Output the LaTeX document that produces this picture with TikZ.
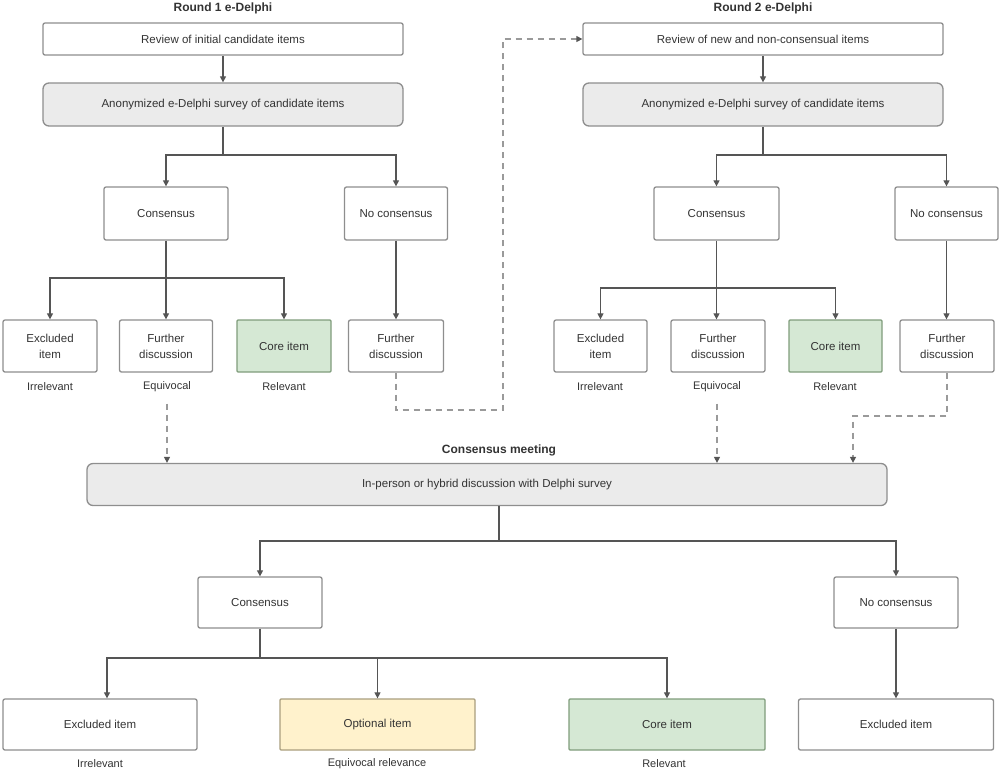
\documentclass[tikz,border=0pt]{standalone}
\usepackage{fontspec}
\setmainfont{Liberation Sans}
\usetikzlibrary{arrows.meta}
\definecolor{txt}{HTML}{333333}
\definecolor{bord}{HTML}{8E8E8E}
\definecolor{lin}{HTML}{555555}
\definecolor{dsh}{HTML}{9A9A9A}
\definecolor{grayfill}{HTML}{EBEBEB}
\definecolor{greenfill}{HTML}{D5E8D4}
\definecolor{greenbord}{HTML}{7F9C7B}
\definecolor{yellowfill}{HTML}{FFF2CC}
\definecolor{yellowbord}{HTML}{A99E7E}
\begin{document}
\begin{tikzpicture}[x=1pt,y=-1pt,
  font=\fontsize{11.5}{16}\selectfont, text=txt,
  box/.style={draw=bord, line width=1.3pt, fill=white, rounded corners=2pt, align=center, inner sep=2pt},
  graybox/.style={box, fill=grayfill, rounded corners=6pt},
  greenbox/.style={box, draw=greenbord, fill=greenfill, rounded corners=1pt},
  yellowbox/.style={box, draw=yellowbord, fill=yellowfill, rounded corners=1pt},
  ttl/.style={font=\fontsize{12}{14}\selectfont\bfseries},
  lab/.style={font=\fontsize{11}{13}\selectfont},
  ln/.style={draw=lin, line width=1.2pt},
  arr/.style={ln, -{Triangle[length=6pt,width=6pt]}},
  dsh/.style={draw=dsh, line width=1.3pt, dash pattern=on 6pt off 5pt},
  darr/.style={dsh, -{Triangle[length=6pt,width=6pt,fill=lin,color=lin]}}
]
\useasboundingbox (0,0) rectangle (1000,772);

% ---- Round 1 ----
\node[ttl] (t1) at (223,8) {Round 1 e-Delphi};
\node[box, minimum width=360pt, minimum height=32pt] (r1) at (223,39) {Review of initial candidate items};
\node[graybox, minimum width=360pt, minimum height=43pt] (s1) at (223,104.5) {Anonymized e-Delphi survey of candidate items};
\node[box, minimum width=124pt, minimum height=53pt] (c1) at (166,213.5) {Consensus};
\node[box, minimum width=103pt, minimum height=53pt] (n1) at (396,213.5) {No consensus};
\node[box, minimum width=94pt, minimum height=52pt] (e1) at (50,346) {Excluded\\item};
\node[box, minimum width=93pt, minimum height=52pt] (f1) at (166,346) {Further\\discussion};
\node[greenbox, minimum width=94pt, minimum height=52pt] (k1) at (284,346) {Core item};
\node[box, minimum width=95pt, minimum height=52pt] (g1) at (396,346) {Further\\discussion};
\node[lab] (le1) at (50,387) {Irrelevant};
\node[lab] (lf1) at (167,387) {Equivocal};
\node[lab] (lk1) at (284,387) {Relevant};

% ---- Round 2 ----
\node[ttl] (t2) at (763,8) {Round 2 e-Delphi};
\node[box, minimum width=360pt, minimum height=32pt] (r2) at (763,39) {Review of new and non-consensual items};
\node[graybox, minimum width=360pt, minimum height=43pt] (s2) at (763,104.5) {Anonymized e-Delphi survey of candidate items};
\node[box, minimum width=125pt, minimum height=53pt] (c2) at (716.5,213.5) {Consensus};
\node[box, minimum width=103pt, minimum height=53pt] (n2) at (946.5,213.5) {No consensus};
\node[box, minimum width=93pt, minimum height=52pt] (e2) at (600.5,346) {Excluded\\item};
\node[box, minimum width=94pt, minimum height=52pt] (f2) at (718,346) {Further\\discussion};
\node[greenbox, minimum width=93pt, minimum height=52pt] (k2) at (835.5,346) {Core item};
\node[box, minimum width=94pt, minimum height=52pt] (g2) at (947,346) {Further\\discussion};
\node[lab] (le2) at (600,387) {Irrelevant};
\node[lab] (lf2) at (717,387) {Equivocal};
\node[lab] (lk2) at (835,387) {Relevant};

% ---- Consensus meeting ----
\node[ttl] (t3) at (499,450) {Consensus meeting};
\node[graybox, minimum width=800pt, minimum height=42pt] (cm) at (487,484.5) {In-person or hybrid discussion with Delphi survey};
\node[box, minimum width=124pt, minimum height=51pt] (c3) at (260,602.5) {Consensus};
\node[box, minimum width=124pt, minimum height=51pt] (n3) at (896,602.5) {No consensus};
\node[box, minimum width=194pt, minimum height=51pt] (e3) at (100,724.5) {Excluded item};
\node[yellowbox, minimum width=195pt, minimum height=51pt] (o3) at (377.5,724.5) {Optional item};
\node[greenbox, minimum width=196pt, minimum height=51pt] (k3) at (667,724.5) {Core item};
\node[box, minimum width=195pt, minimum height=51pt] (x3) at (896,724.5) {Excluded item};
\node[lab] (le3) at (100,764) {Irrelevant};
\node[lab] (lo3) at (377,764) {Equivocal relevance};
\node[lab] (lk3) at (664,764) {Relevant};

% ---- connectors round 1 ----
\draw[arr] (r1) -- (s1);
\coordinate (j1) at (223,155);
\draw[ln] (s1.south) -- (j1);
\draw[arr] (j1) -| (c1.north);
\draw[arr] (j1) -| (n1.north);
\coordinate (j2) at (166,278);
\draw[arr] (c1) -- (f1);
\draw[arr] (j2) -| (e1.north);
\draw[arr] (j2) -| (k1.north);
\draw[arr] (n1) -- (g1);

% ---- connectors round 2 ----
\draw[arr] (r2) -- (s2);
\coordinate (j3) at (763,155);
\draw[ln] (s2.south) -- (j3);
\draw[arr] (j3) -| (c2.north);
\draw[arr] (j3) -| (n2.north);
\coordinate (j4) at (716.5,288);
\draw[arr] (c2.south) -- (c2.south |- f2.north);
\draw[arr] (j4) -| (e2.north);
\draw[arr] (j4) -| (k2.north);
\draw[arr] (n2.south) -- (n2.south |- g2.north);

% ---- dashed feedback ----
\coordinate (d1) at (503,410);
\draw[darr] (g1.south) |- (d1) |- (r2.west);
\coordinate (d2) at (853,416);
\draw[darr] (g2.south) |- (d2) -- (d2 |- cm.north);
\draw[darr] ([yshift=-8pt]lf1.south) -- (lf1.south |- cm.north);
\draw[darr] ([yshift=-8pt]lf2.south) -- (lf2.south |- cm.north);

% ---- connectors consensus meeting ----
\coordinate (j5) at (499,541);
\draw[ln] (j5 |- cm.south) -- (j5);
\draw[arr] (j5) -| (c3.north);
\draw[arr] (j5) -| (n3.north);
\coordinate (j6) at (260,658);
\draw[ln] (c3.south) -- (j6);
\draw[arr] (j6) -| ([xshift=7pt]e3.north);
\draw[arr] (j6) -| (o3.north);
\draw[arr] (j6) -| (k3.north);
\draw[arr] (n3) -- (x3);
\end{tikzpicture}
\end{document}
